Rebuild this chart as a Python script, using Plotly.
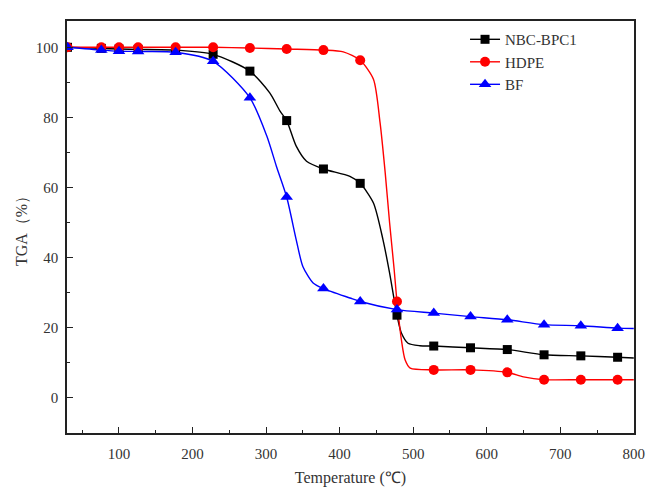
import plotly.graph_objects as go

# Marker positions (temperature, °C)
temp_markers = [30, 76, 100, 126, 177, 228, 278, 328, 378, 428, 478, 528, 578, 628, 678, 728, 778]

nbc_markers = [100, 99.7, 99.5, 99.4, 99.2, 98.0, 93.2, 79.1, 65.3, 61.2, 23.6, 14.8, 14.3, 13.8, 12.3, 12.0, 11.6]
hdpe_markers = [100, 100, 100, 100, 100, 100, 99.8, 99.5, 99.2, 96.3, 27.5, 8.0, 8.0, 7.3, 5.2, 5.2, 5.2]
bf_markers = [100, 99.2, 98.9, 98.8, 98.6, 96.0, 85.6, 57.3, 31.2, 27.5, 25.2, 24.2, 23.2, 22.3, 20.9, 20.6, 19.9]

# Curve points
nbc_curve_t = [30, 76, 100, 126, 177, 228, 278, 305, 319, 328, 341, 355, 378, 414, 428, 446, 459, 468, 478, 484, 493, 509, 528, 578, 628, 678, 728, 778, 800]
nbc_curve_v = [100, 99.7, 99.5, 99.4, 99.2, 98.0, 93.2, 87.0, 81.8, 79.1, 71.8, 67.5, 65.3, 63.2, 61.2, 55.6, 45.1, 35.6, 23.6, 18.5, 15.6, 14.9, 14.8, 14.3, 13.8, 12.3, 12.0, 11.6, 11.4]

hdpe_curve_t = [30, 76, 100, 126, 177, 228, 278, 328, 378, 405, 428, 446, 455, 462, 468, 474, 478, 484, 489, 496, 528, 578, 628, 650, 678, 728, 778, 800]
hdpe_curve_v = [100, 100, 100, 100, 100, 100, 99.8, 99.5, 99.2, 98.7, 96.3, 90.9, 78.5, 64.2, 49.9, 37.0, 27.5, 16.6, 10.9, 8.5, 8.0, 8.0, 7.3, 6.0, 5.2, 5.2, 5.2, 5.2]

bf_curve_t = [30, 76, 100, 126, 177, 228, 278, 301, 314, 328, 341, 350, 364, 378, 414, 428, 478, 528, 578, 628, 678, 728, 778, 800]
bf_curve_v = [100, 99.2, 98.9, 98.8, 98.6, 96.0, 85.6, 74.7, 66.1, 57.3, 45.1, 37.5, 32.8, 31.2, 28.5, 27.5, 25.2, 24.2, 23.2, 22.3, 20.9, 20.6, 19.9, 19.8]

series = [
    ("NBC-BPC1", "#000000", "square", 9, nbc_curve_t, nbc_curve_v, nbc_markers),
    ("HDPE", "#ff0000", "circle", 10, hdpe_curve_t, hdpe_curve_v, hdpe_markers),
    ("BF", "#0000ff", "triangle-up", 11, bf_curve_t, bf_curve_v, bf_markers),
]

fig = go.Figure()
for name, color, sym, size, ct, cv, mv in series:
    fig.add_trace(go.Scatter(x=ct, y=cv, mode="lines", line=dict(color=color, width=1.4, shape="spline", smoothing=0.7),
                             showlegend=False, hoverinfo="skip"))
for name, color, sym, size, ct, cv, mv in series:
    fig.add_trace(go.Scatter(x=temp_markers, y=mv, mode="markers",
                             marker=dict(symbol=sym, size=size, color=color, line=dict(width=0)),
                             showlegend=False, name=name))
for name, color, sym, size, ct, cv, mv in series:
    fig.add_trace(go.Scatter(x=[None], y=[None], mode="lines+markers", name=name,
                             line=dict(color=color, width=1.4),
                             marker=dict(symbol=sym, size=size, color=color)))

font_family = "Liberation Serif, Times New Roman, serif"
axis_common = dict(
    showline=True, linecolor="#222", linewidth=1.5, mirror=True,
    ticks="inside", ticklen=6, tickwidth=1.2, tickcolor="#222",
    showgrid=False, zeroline=False, automargin=False,
    tickfont=dict(family=font_family, size=15, color="#333"),
)

fig.update_layout(
    width=646, height=487,
    margin=dict(l=67, r=12, t=21, b=54),
    paper_bgcolor="white", plot_bgcolor="white",
    font=dict(family=font_family, color="#333"),
    xaxis=dict(range=[29.3, 800.3], tick0=100, dtick=100, ticklabelstandoff=6,
               minor=dict(ticks="inside", ticklen=3, dtick=50, tick0=0, tickcolor="#222"),
               title=dict(text="Temperature (℃)", font=dict(family=font_family, size=16, color="#333"), standoff=12),
               **axis_common),
    yaxis=dict(range=[-10, 107.5], tick0=0, dtick=20, ticklabelstandoff=4,
               minor=dict(ticks="inside", ticklen=3, dtick=10, tick0=0, tickcolor="#222"),
               title=dict(text="TGA（%）", font=dict(family=font_family, size=16, color="#333"), standoff=4),
               **axis_common),
    legend=dict(x=0.702, y=0.995, xanchor="left", yanchor="top", bgcolor="rgba(0,0,0,0)",
                font=dict(family=font_family, size=15, color="#333"), tracegroupgap=0, itemwidth=30),
)

fig.write_html("out.html", config={"displayModeBar": False},
               post_script="document.body.style.margin='0';document.body.style.overflow='hidden';")
